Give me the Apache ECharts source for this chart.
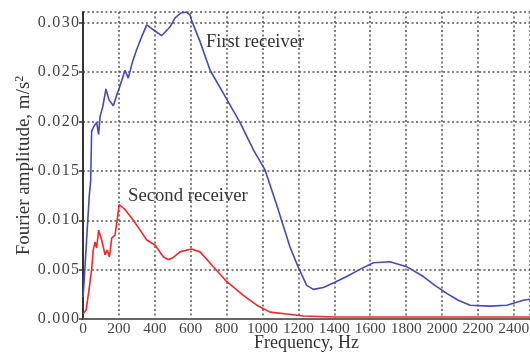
<!DOCTYPE html>
<html><head><meta charset="utf-8">
<script src="https://cdn.jsdelivr.net/npm/echarts@6/dist/echarts.min.js"></script>
<style>html,body{margin:0;padding:0;background:#fff}#c{width:530px;height:354px}</style>
</head><body><div id="c"></div>
<script>
// First receiver: [frequency Hz, amplitude m/s^2]
var firstReceiver = [[0,0.0022],[5,0.0035],[20,0.008],[35,0.0125],[43,0.0141],[48,0.019],[60,0.0195],[76,0.0199],[87,0.0187],[95,0.0205],[110,0.0215],[128,0.0233],[145,0.0222],[169,0.0216],[190,0.0228],[206,0.0236],[234,0.0252],[252,0.0244],[275,0.026],[299,0.0273],[327,0.0286],[355,0.0298],[392,0.0293],[438,0.0287],[485,0.0296],[513,0.0305],[545,0.031],[575,0.0311],[596,0.0308],[606,0.0302],[650,0.0282],[708,0.0252],[790,0.0226],[875,0.0199],[950,0.0171],[1014,0.0151],[1080,0.0115],[1153,0.0073],[1200,0.0052],[1246,0.0034],[1283,0.0030],[1339,0.0032],[1400,0.0037],[1469,0.0043],[1540,0.0050],[1617,0.0057],[1710,0.0058],[1803,0.0053],[1896,0.0043],[1960,0.0034],[2026,0.0026],[2090,0.0019],[2156,0.0014],[2267,0.0013],[2360,0.0014],[2453,0.0019],[2490,0.0020]];
// Second receiver
var secondReceiver = [[0,0.0005],[5,0.0006],[17,0.0009],[30,0.0025],[48,0.0050],[57,0.0070],[67,0.0078],[76,0.0072],[87,0.0090],[104,0.0080],[123,0.0065],[135,0.0070],[147,0.0063],[160,0.0082],[178,0.0085],[190,0.0100],[201,0.0116],[234,0.0111],[280,0.0100],[318,0.0090],[355,0.0080],[401,0.0075],[447,0.0063],[475,0.0060],[500,0.0062],[540,0.0068],[603,0.0071],[652,0.0068],[726,0.0053],[800,0.0038],[893,0.0024],[968,0.0014],[1042,0.0007],[1135,0.0005],[1228,0.0003],[1400,0.0002],[1800,0.0002],[2200,0.0002],[2490,0.0002]];
var seriesNames = ['First receiver', 'Second receiver'];
var xAxisName = 'Frequency, Hz';
var yAxisName = 'Fourier amplitude, m/s{sup|2}';

var FONT = 'Liberation Serif';
var chart = echarts.init(document.getElementById('c'));
var gridLine = {show: true, lineStyle: {color: '#555', width: 1.5, type: [2, 2.5]}};
chart.setOption({
  animation: false,
  grid: {left: 83, right: 0, top: 12, bottom: 35, containLabel: false, outerBoundsMode: 'none'},
  xAxis: [{
    type: 'value', min: 0, max: 2490, interval: 200,
    name: xAxisName, nameLocation: 'middle', nameGap: 15, nameMoveOverlap: false,
    nameTextStyle: {fontFamily: FONT, fontSize: 18, color: '#333'},
    axisLine: {show: true, onZero: false, lineStyle: {color: '#333', width: 2}},
    axisTick: {show: false},
    axisLabel: {fontFamily: FONT, fontSize: 15.5, color: '#444', margin: 2, showMaxLabel: false,
      formatter: function (v) { return String(v); }},
    splitLine: gridLine
  }, {
    type: 'value', position: 'top', min: 0, max: 2490,
    axisLine: {show: true, lineStyle: {color: '#666', width: 2}},
    axisTick: {show: false}, axisLabel: {show: false}, splitLine: {show: false}
  }],
  yAxis: {
    type: 'value', min: 0, max: 0.0311, interval: 0.005,
    name: yAxisName, nameLocation: 'middle', nameGap: 48, nameRotate: 90, nameMoveOverlap: false,
    nameTextStyle: {fontFamily: FONT, fontSize: 19, color: '#333',
      rich: {sup: {fontFamily: FONT, fontSize: 12, color: '#333', verticalAlign: 'top', padding: [0,0,9,0]}}},
    axisLine: {show: true, lineStyle: {color: '#333', width: 2}},
    axisTick: {show: true, length: 4, lineStyle: {color: '#333', width: 1.5}},
    axisLabel: {fontFamily: FONT, fontSize: 16, color: '#444', margin: 4, showMaxLabel: false,
      formatter: function (v) { return v.toFixed(3).split('').join('\u200A'); }},
    splitLine: gridLine
  },
  series: [{
    name: seriesNames[0], type: 'line', data: firstReceiver, showSymbol: false,
    lineStyle: {color: '#4848b8', width: 1.6}
  }, {
    name: seriesNames[1], type: 'line', data: secondReceiver, showSymbol: false,
    lineStyle: {color: '#f02828', width: 1.6}
  }],
  graphic: [
    {type: 'text', left: 206, top: 33, style: {text: seriesNames[0], font: '18.5px "Liberation Serif"', fill: '#333'}},
    {type: 'text', left: 128, top: 187, style: {text: seriesNames[1], font: '18.7px "Liberation Serif"', fill: '#333'}}
  ]
});
</script></body></html>
